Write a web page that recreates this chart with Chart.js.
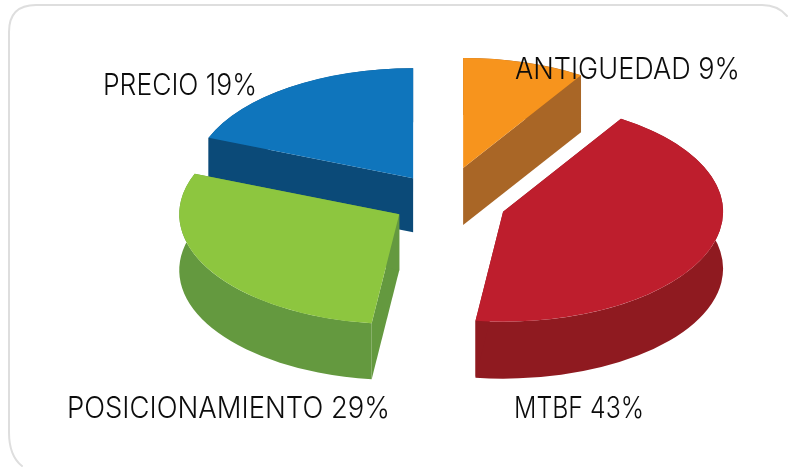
<!DOCTYPE html>
<html>
<head>
<meta charset="utf-8">
<style>html,body{margin:0;padding:0;background:#fff}canvas{display:block}</style>
<script src="https://cdn.jsdelivr.net/npm/chart.js@4"></script>
</head>
<body>
<canvas id="c" width="788" height="467"></canvas>
<script>
const categories = ['ANTIGUEDAD', 'MTBF', 'POSICIONAMIENTO', 'PRECIO'];
const values = [9, 43, 29, 19];
const topColors = ['#f7941d', '#be1e2d', '#8dc63f', '#0f75bc'];
const sideColors = ['#a96626', '#8f1a20', '#64993f', '#0b4a78'];
const explode = [68.6, 62.8, 52, 54.9];
const depths = [57, 57, 56, 54];
const labelBoxes = [[515, 740, 79], [514, 644, 418], [67, 390, 418], [103, 257, 95]];
const wallOrder = [3, 0, 1, 2];

const RX = 220, RY = 110, CX = 444, CY = 201;

const pie3d = {
  id: 'pie3d',
  beforeDatasetDraw(chart) {
    const ctx = chart.ctx;
    const arcs = chart.getDatasetMeta(0).data;
    const R = arcs[0].outerRadius;
    const sx = RX / R, sy = RY / R;
    const x0 = arcs[0].x, y0 = arcs[0].y;
    const place = () => {
      ctx.translate(CX, CY);
      ctx.scale(sx, sy);
      ctx.translate(-x0, -y0);
    };
    const shift = (a, i) => {
      const mid = (a.startAngle + a.endAngle) / 2;
      const off = explode[i] * R / RX;
      return [Math.cos(mid) * off, Math.sin(mid) * off];
    };
    wallOrder.forEach(i => {
      const a = arcs[i];
      const [dx, dy] = shift(a, i);
      const ax = a.x + dx, ay = a.y + dy;
      const oy = depths[i] / sy;
      ctx.save();
      place();
      ctx.fillStyle = sideColors[i];
      ctx.beginPath();
      ctx.arc(ax, ay, R, a.startAngle, a.endAngle);
      ctx.arc(ax, ay + oy, R, a.endAngle, a.startAngle, true);
      ctx.closePath();
      ctx.fill();
      [a.startAngle, a.endAngle].forEach(t => {
        const px = ax + Math.cos(t) * R, py = ay + Math.sin(t) * R;
        ctx.beginPath();
        ctx.moveTo(ax, ay);
        ctx.lineTo(px, py);
        ctx.lineTo(px, py + oy);
        ctx.lineTo(ax, ay + oy);
        ctx.closePath();
        ctx.fill();
      });
      ctx.restore();
    });
    arcs.forEach((a, i) => {
      const [dx, dy] = shift(a, i);
      ctx.save();
      place();
      ctx.translate(dx, dy);
      a.draw(ctx);
      ctx.restore();
    });
    return false;
  },
  afterDatasetsDraw(chart) {
    const ctx = chart.ctx;
    ctx.save();
    ctx.fillStyle = '#0c0c0c';
    ctx.textBaseline = 'alphabetic';
    ctx.textAlign = 'left';
    ctx.font = '300 30px Inter';
    categories.forEach((name, i) => {
      const text = name + ' ' + values[i] + '%';
      const [l, r, base] = labelBoxes[i];
      const w = ctx.measureText(text).width;
      ctx.save();
      ctx.translate(l, base);
      ctx.scale((r - l) / w, 1);
      ctx.fillText(text, 0, 0);
      ctx.restore();
    });
    ctx.restore();
  },
  beforeDraw(chart) {
    const ctx = chart.ctx;
    ctx.save();
    ctx.strokeStyle = '#dedede';
    ctx.lineWidth = 2;
    ctx.lineCap = 'round';
    ctx.beginPath();
    ctx.moveTo(22, 466);
    ctx.quadraticCurveTo(9, 456, 9, 432);
    ctx.lineTo(9, 32);
    ctx.quadraticCurveTo(9, 5, 36, 5);
    ctx.lineTo(762, 5);
    ctx.quadraticCurveTo(778, 5, 787, 16);
    ctx.stroke();
    ctx.restore();
  }
};

new Chart(document.getElementById('c'), {
  type: 'pie',
  data: {
    labels: categories,
    datasets: [{
      data: values,
      backgroundColor: topColors,
      borderWidth: 0,
      clip: false
    }]
  },
  options: {
    responsive: false,
    animation: false,
    rotation: 0,
    layout: { padding: 0 },
    plugins: { legend: { display: false }, tooltip: { enabled: false }, title: { display: false } }
  },
  plugins: [pie3d]
});
</script>
</body>
</html>
